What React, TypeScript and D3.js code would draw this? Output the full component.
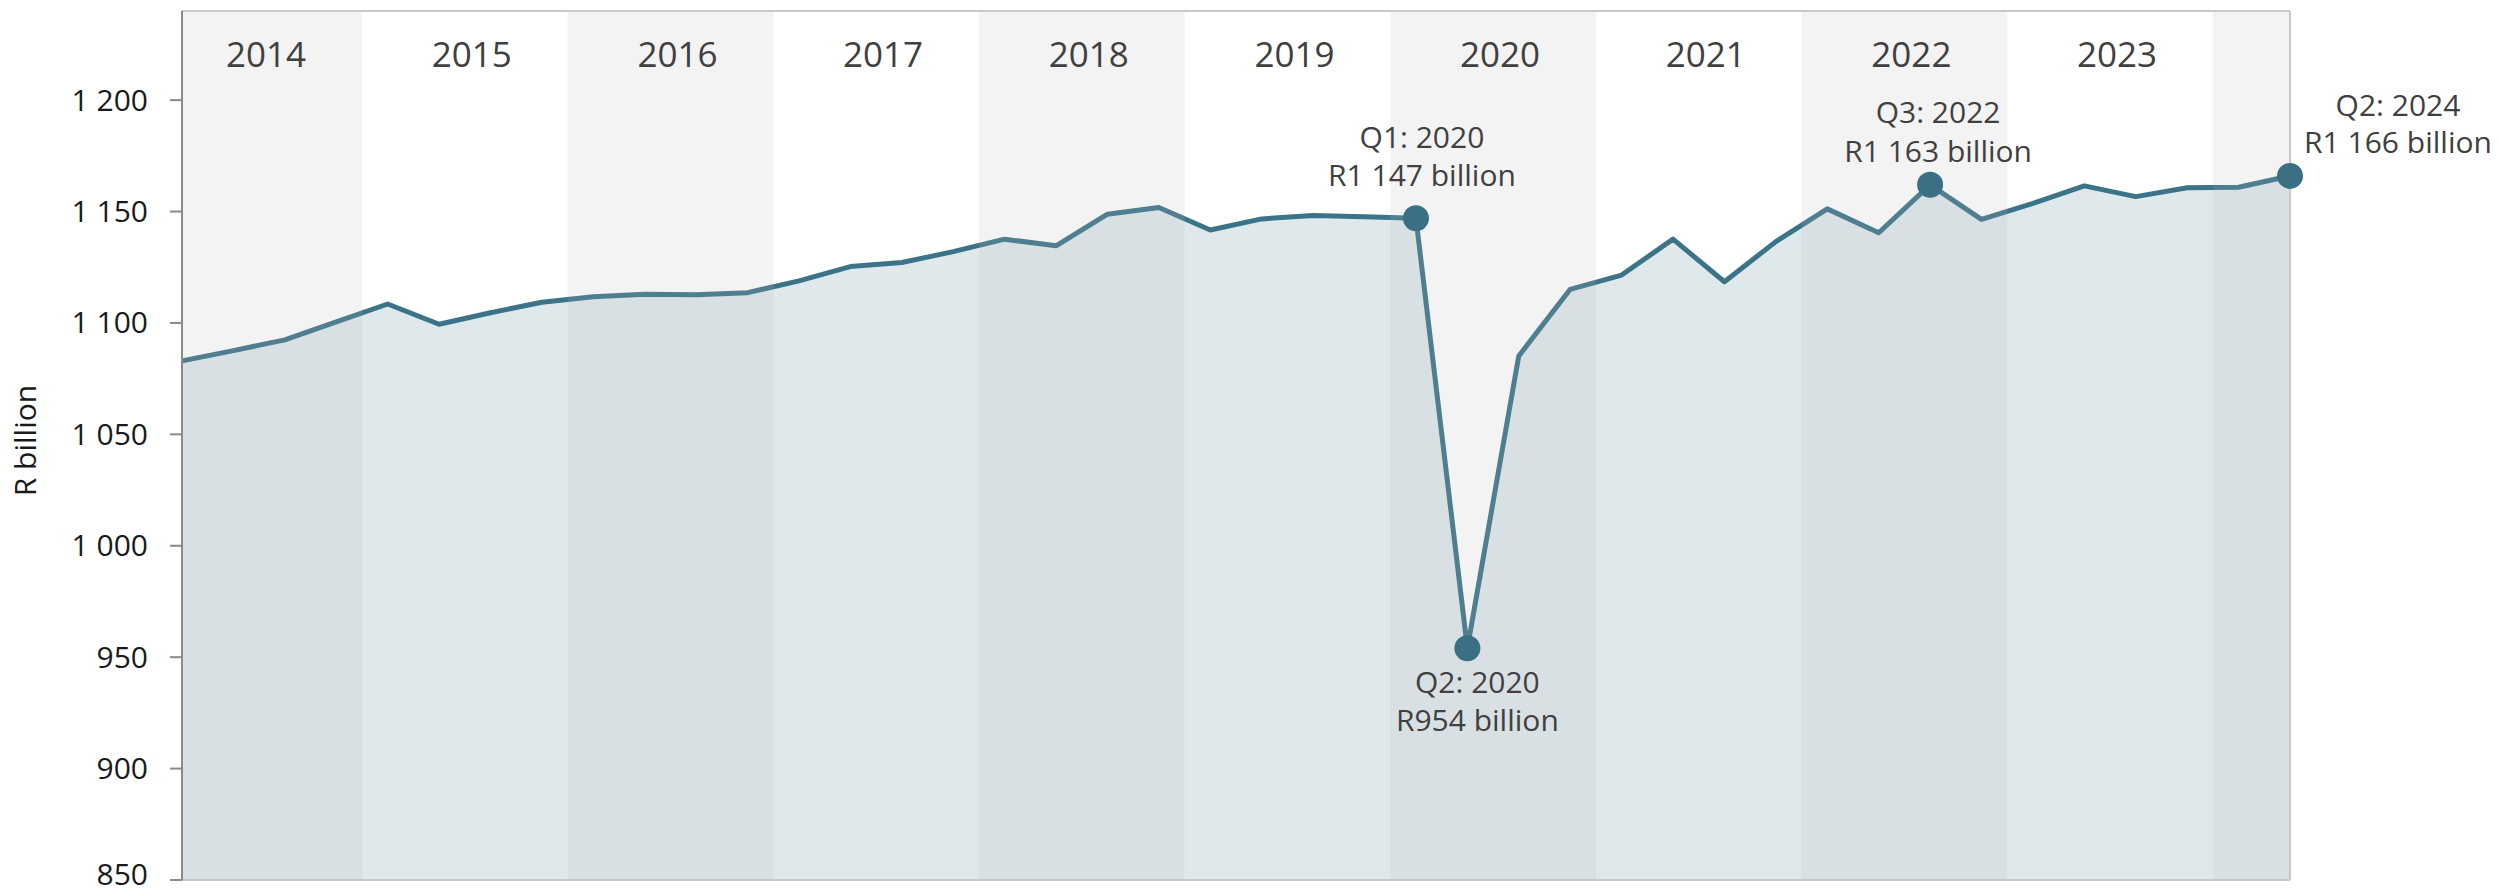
import React from "react";
import * as d3 from "d3";

const years = [2014, 2015, 2016, 2017, 2018, 2019, 2020, 2021, 2022, 2023, 2024];
const quartersInLastYear = 2;

const gdpValues = [
  1083, 1087.6, 1092.4, 1100.5, 1108.5, 1099.4, 1104.6, 1109.3, 1111.8, 1112.9,
  1112.7, 1113.6, 1118.9, 1125.3, 1127.1, 1132, 1137.6, 1134.6, 1148.8, 1151.8,
  1141.7, 1146.7, 1148.2, 1147.7, 1147, 954, 1085.2, 1115.1, 1121.5, 1137.6,
  1118.5, 1136.5, 1151.2, 1140.5, 1162, 1146.5, 1153.7, 1161.5, 1156.7, 1160.7,
  1160.9, 1166,
];

const yTicks = [850, 900, 950, 1000, 1050, 1100, 1150, 1200];
const yTickLabels = ["850", "900", "950", "1 000", "1 050", "1 100", "1 150", "1 200"];

const annotationIndex = [24, 25, 34, 41];
const annotationTitles = ["Q1: 2020", "Q2: 2020", "Q3: 2022", "Q2: 2024"];
const annotationValues = ["R1 147 billion", "R954 billion", "R1 163 billion", "R1 166 billion"];
// layout offsets for annotation text (dx, baseline of line 1, baseline of line 2) relative to marker
const annotationLayout = [
  { dx: 6, b1: -70, b2: -32 },
  { dx: 10, b1: 45, b2: 83 },
  { dx: 8, b1: -62, b2: -23 },
  { dx: 108, b1: -60, b2: -23 },
];

const W = 2499;
const H = 893;
const M = { left: 182, right: 2290, top: 11, bottom: 880 };
const LINE = "#3b7489";
const FONT = "'Open Sans', 'Noto Sans', sans-serif";

export default function App() {
  const n = gdpValues.length;
  const x = d3.scaleLinear().domain([0, n - 1]).range([M.left, M.right]);
  const y = d3.scaleLinear().domain([850, 1240]).range([M.bottom, M.top]);
  const step = x(1) - x(0);

  const line = d3
    .line<number>()
    .x((_, i) => x(i))
    .y((d) => y(d));
  const area = d3
    .area<number>()
    .x((_, i) => x(i))
    .y0(y(850))
    .y1((d) => y(d));

  const bands = years.map((yr, k) => {
    const first = k * 4;
    const last = k === years.length - 1 ? first + quartersInLastYear - 1 : first + 3;
    const x0 = Math.max(M.left, x(first) - step / 2);
    const x1 = Math.min(M.right, x(last) + step / 2);
    const center = x(first) + 1.5 * step;
    return { yr, x0, x1, center, shaded: k % 2 === 0, showLabel: k < years.length - 1 };
  });

  return (
    <svg
      width={W}
      height={H}
      style={{ position: "absolute", left: 0, top: 0, display: "block", background: "#fff" }}
    >
      {/* area + line */}
      <path d={area(gdpValues) || ""} fill={LINE} fillOpacity={0.16} />
      <path d={line(gdpValues) || ""} fill="none" stroke={LINE} strokeWidth={5} strokeLinejoin="round" />

      {/* alternating year bands drawn over */}
      {bands.map((b) =>
        b.shaded ? (
          <rect
            key={"b" + b.yr}
            x={b.x0}
            y={M.top}
            width={b.x1 - b.x0}
            height={M.bottom - M.top}
            fill="rgb(180,180,180)"
            fillOpacity={0.16}
          />
        ) : null
      )}

      {/* year labels */}
      {bands.map((b) =>
        b.showLabel ? (
          <text
            key={"t" + b.yr}
            x={b.center + 7}
            y={67}
            textAnchor="middle"
            fontFamily={FONT}
            fontSize={35}
            fill="#404040"
          >
            {b.yr}
          </text>
        ) : null
      )}

      {/* frame */}
      <line x1={M.left} x2={M.right} y1={M.top} y2={M.top} stroke="#c8c8c8" strokeWidth={2} />
      <line x1={M.right} x2={M.right} y1={M.top} y2={M.bottom} stroke="#c8c8c8" strokeWidth={2} />
      <line x1={M.left} x2={M.right} y1={M.bottom} y2={M.bottom} stroke="#c8c8c8" strokeWidth={2} />
      <line x1={M.left} x2={M.left} y1={M.top} y2={M.bottom} stroke="#8a8a8a" strokeWidth={2} />

      {/* y axis ticks */}
      {yTicks.map((t, i) => (
        <g key={"y" + t}>
          <line x1={M.left - 12} x2={M.left} y1={y(t)} y2={y(t)} stroke="#8a8a8a" strokeWidth={2} />
          <text
            x={148}
            y={Math.min(y(t) + 10.5, 885)}
            textAnchor="end"
            fontFamily={FONT}
            fontSize={30}
            fill="#1a1a1a"
          >
            {yTickLabels[i]}
          </text>
        </g>
      ))}

      <text
        transform={`translate(36, ${(M.top + M.bottom) / 2 - 5}) rotate(-90)`}
        textAnchor="middle"
        fontFamily={FONT}
        fontSize={30}
        fill="#1a1a1a"
      >
        R billion
      </text>

      {/* annotations */}
      {annotationIndex.map((idx, k) => {
        const cx = x(idx);
        const cy = y(gdpValues[idx]);
        const L = annotationLayout[k];
        return (
          <g key={"a" + idx}>
            <circle cx={cx} cy={cy} r={13} fill="#3a6f84" />
            <text
              x={cx + L.dx}
              y={cy + L.b1}
              textAnchor="middle"
              fontFamily={FONT}
              fontSize={30}
              fill="#404040"
            >
              {annotationTitles[k]}
            </text>
            <text
              x={cx + L.dx}
              y={cy + L.b2}
              textAnchor="middle"
              fontFamily={FONT}
              fontSize={30}
              fill="#404040"
            >
              {annotationValues[k]}
            </text>
          </g>
        );
      })}
    </svg>
  );
}
